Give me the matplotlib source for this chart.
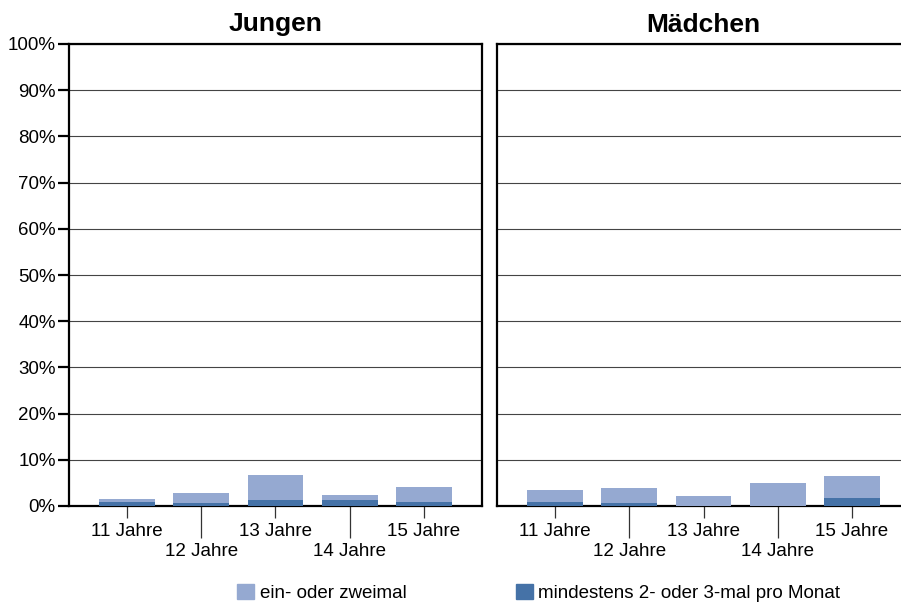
import numpy as np
import matplotlib.pyplot as plt
from matplotlib.patches import Patch

plt.rcParams['font.family'] = ['Liberation Sans', 'DejaVu Sans']

ages = ['11 Jahre', '12 Jahre', '13 Jahre', '14 Jahre', '15 Jahre']
# dark segment (bottom) and light segment (on top), in percent
jungen_oft = [0.9, 0.7, 1.3, 1.3, 0.9]
jungen_selten = [0.6, 2.1, 5.4, 1.1, 3.2]
maedchen_oft = [0.9, 0.7, 0.0, 0.0, 1.7]
maedchen_selten = [2.6, 3.2, 2.2, 5.0, 4.8]
yticks = np.arange(0, 101, 10)

c_light = '#95a9d1'
c_dark = '#4572a7'

fig = plt.figure(figsize=(9.01, 6.02), dpi=100)
ax1 = fig.add_axes([69/901, 96/602, 413/901, 462/602])
ax2 = fig.add_axes([497/901, 96/602, 413/901, 462/602])

x = np.arange(len(ages))
for ax, oft, selten, title in [(ax1, jungen_oft, jungen_selten, 'Jungen'),
                               (ax2, maedchen_oft, maedchen_selten, 'Mädchen')]:
    ax.bar(x, oft, width=0.75, color=c_dark, zorder=3)
    ax.bar(x, selten, bottom=oft, width=0.75, color=c_light, zorder=3)
    ax.set_xlim(-0.78, 4.78)
    ax.set_ylim(0, 100)
    ax.set_yticks(yticks)
    ax.yaxis.grid(True, color='#444444', linewidth=0.8, zorder=0)
    for s in ax.spines.values():
        s.set_linewidth(1.6)
        s.set_color('black')
    ax.set_title(title, fontsize=19, fontweight='bold', pad=9)
    # staggered x labels: major ticks short, minor ticks long
    ax.set_xticks(x[::2])
    ax.set_xticklabels(ages[::2])
    ax.set_xticks(x[1::2], minor=True)
    ax.set_xticklabels(ages[1::2], minor=True)
    ax.tick_params(axis='x', which='major', length=8.6, width=0.9, color='#333333',
                   labelsize=13.5, pad=3.5)
    ax.tick_params(axis='x', which='minor', length=23, width=0.9, color='#333333',
                   labelsize=13.5, pad=3.5)

ax1.set_yticklabels([f'{v}%' for v in yticks])
ax1.tick_params(axis='y', length=8, width=1.6, labelsize=13.5, pad=1.5)
ax2.tick_params(axis='y', left=False, labelleft=False)

fig.legend(handles=[Patch(color=c_light)], labels=['ein- oder zweimal'],
           loc='center left', bbox_to_anchor=(237/901, 1 - 593/602), frameon=False,
           fontsize=13.5, handlelength=0.9, handleheight=0.9, handletextpad=0.3,
           borderpad=0, borderaxespad=0)
fig.legend(handles=[Patch(color=c_dark)], labels=['mindestens 2- oder 3-mal pro Monat'],
           loc='center left', bbox_to_anchor=(516/901, 1 - 593/602), frameon=False,
           fontsize=13.5, handlelength=0.9, handleheight=0.9, handletextpad=0.3,
           borderpad=0, borderaxespad=0)

fig.savefig('out.png', dpi=100)
